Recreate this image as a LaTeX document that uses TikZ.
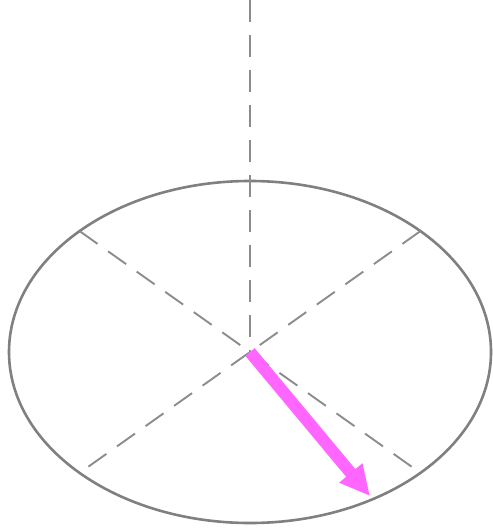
\documentclass[tikz,border=0pt]{standalone}
\usetikzlibrary{arrows.meta, calc}
\definecolor{RimGray}{RGB}{128,128,128}
\definecolor{AxisGray}{RGB}{140,140,140}
\definecolor{SpinPink}{RGB}{255,102,255}
\begin{document}
\begin{tikzpicture}[x=1pt, y=-1pt,
      rim/.style={draw=RimGray, line width=2.6pt},
      axis/.style={draw=AxisGray, line width=1.9pt, dash pattern=on 22pt off 13pt},
      spin/.style={draw=SpinPink, line width=12pt,
                   -{Triangle[width=28pt, length=30pt]}, SpinPink}
    ]
    \useasboundingbox (0,0) rectangle (492,529);

    % centre and rim
    \coordinate (O) at (250,352);
    \coordinate (top) at (250,0);
    \draw[rim] (O) ellipse [x radius=241, y radius=171];

    % diameters
    \coordinate (ul) at ($(O)+(-170.4,-120.9)$);
    \coordinate (lr) at ($(O)+(170.4,120.9)$);
    \coordinate (ur) at ($(O)+(170.4,-120.9)$);
    \coordinate (ll) at ($(O)+(-170.4,120.9)$);
    \draw[axis] (top) -- (O);
    \draw[axis] (ul) -- (lr);
    \draw[axis] (ur) -- (ll);

    % spin vector
    \coordinate (tip) at (370,496);
    \draw[spin] (O) -- (tip);
\end{tikzpicture}
\end{document}
